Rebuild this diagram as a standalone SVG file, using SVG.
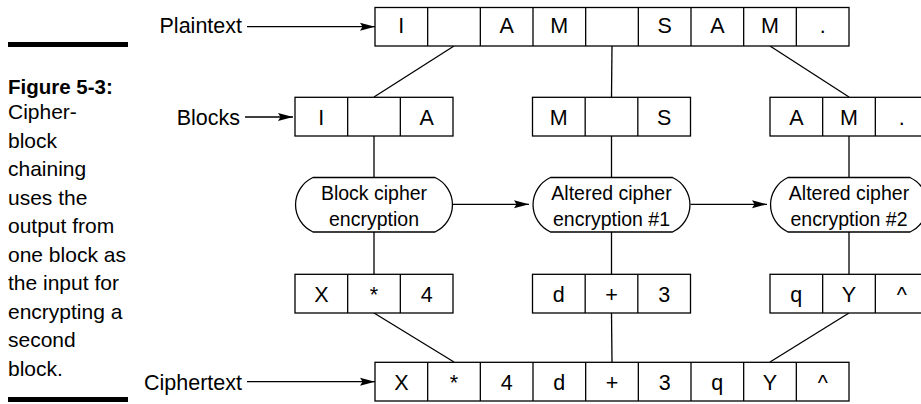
<svg xmlns="http://www.w3.org/2000/svg" width="921" height="404" viewBox="0 0 921 404">
<style>
.t{font-family:"Liberation Sans",Arial,sans-serif;font-size:21.5px;fill:#000}
.c{text-anchor:middle}
.e{font-family:"Liberation Sans",Arial,sans-serif;font-size:19.5px;fill:#000;text-anchor:middle}
.s{font-family:"Liberation Sans",Arial,sans-serif;font-size:21px;fill:#000}
.b{font-weight:bold;font-size:20.5px}
.box{fill:#fff;stroke:#000;stroke-width:1.3}
.ln{stroke:#000;stroke-width:1.3;fill:none}
</style>
<defs>
<marker id="ah" markerUnits="userSpaceOnUse" markerWidth="16" markerHeight="10" refX="15" refY="4.5" orient="auto">
<path d="M0,0.5 L15,4.5 L0,8.5 L2.5,4.5 z" fill="#000"/>
</marker>
<g id="cell3">
<rect class="box" x="0" y="0" width="158" height="38.7"/>
<line class="ln" x1="52.67" y1="0" x2="52.67" y2="38.7"/>
<line class="ln" x1="105.33" y1="0" x2="105.33" y2="38.7"/>
</g>
<path id="pill" class="box" d="M18,0 H140 A30,30 0 0 1 140,54.5 H18 A30,30 0 0 1 18,0 Z"/>
</defs>
<rect width="921" height="404" fill="#fff"/>

<g id="sidebar">
<rect x="8" y="42" width="120" height="5" fill="#000"/>
<rect x="8" y="397" width="120" height="5" fill="#000"/>
<text class="s b" x="8" y="94">Figure 5-3:</text>
<text class="s" x="8" y="119">Cipher-</text>
<text class="s" x="8" y="147.5">block</text>
<text class="s" x="8" y="176">chaining</text>
<text class="s" x="8" y="204.5">uses the</text>
<text class="s" x="8" y="233">output from</text>
<text class="s" x="8" y="261.5">one block as</text>
<text class="s" x="8" y="290">the input for</text>
<text class="s" x="8" y="318.5">encrypting a</text>
<text class="s" x="8" y="347">second</text>
<text class="s" x="8" y="375.5">block.</text>
</g>

<g id="connectors">
<line class="ln" x1="247" y1="26.7" x2="375" y2="26.7" marker-end="url(#ah)"/>
<line class="ln" x1="245" y1="117" x2="293" y2="117" marker-end="url(#ah)"/>
<line class="ln" x1="247" y1="381.7" x2="375" y2="381.7" marker-end="url(#ah)"/>
<line class="ln" x1="454" y1="46" x2="374" y2="97"/>
<line class="ln" x1="612" y1="46" x2="611.5" y2="97"/>
<line class="ln" x1="770" y1="46" x2="849" y2="97"/>
<line class="ln" x1="374" y1="136" x2="374" y2="177"/>
<line class="ln" x1="611.5" y1="136" x2="611.5" y2="177"/>
<line class="ln" x1="849" y1="136" x2="849" y2="177"/>
<line class="ln" x1="374" y1="232" x2="374" y2="274"/>
<line class="ln" x1="611.5" y1="232" x2="611.5" y2="274"/>
<line class="ln" x1="849" y1="232" x2="849" y2="274"/>
<line class="ln" x1="374" y1="313" x2="454" y2="362"/>
<line class="ln" x1="611.5" y1="313" x2="612" y2="362"/>
<line class="ln" x1="849" y1="313" x2="770" y2="362"/>
<line class="ln" x1="453" y1="204.3" x2="529" y2="204.3" marker-end="url(#ah)"/>
<line class="ln" x1="690.5" y1="204.3" x2="767" y2="204.3" marker-end="url(#ah)"/>
</g>

<g id="plaintext">
<text class="t" x="242" y="33" text-anchor="end">Plaintext</text>
<rect class="box" x="375" y="7.5" width="474" height="38.5"/>
<line class="ln" x1="427.67" y1="7.5" x2="427.67" y2="46"/>
<line class="ln" x1="480.33" y1="7.5" x2="480.33" y2="46"/>
<line class="ln" x1="533" y1="7.5" x2="533" y2="46"/>
<line class="ln" x1="585.67" y1="7.5" x2="585.67" y2="46"/>
<line class="ln" x1="638.33" y1="7.5" x2="638.33" y2="46"/>
<line class="ln" x1="691" y1="7.5" x2="691" y2="46"/>
<line class="ln" x1="743.67" y1="7.5" x2="743.67" y2="46"/>
<line class="ln" x1="796.33" y1="7.5" x2="796.33" y2="46"/>
<text class="t c" x="401.3" y="33">I</text>
<text class="t c" x="506.7" y="33">A</text>
<text class="t c" x="559.3" y="33">M</text>
<text class="t c" x="664.7" y="33">S</text>
<text class="t c" x="717.3" y="33">A</text>
<text class="t c" x="770" y="33">M</text>
<text class="t c" x="822.7" y="33">.</text>
</g>

<g id="blocks">
<text class="t" x="240" y="125" text-anchor="end">Blocks</text>
<use href="#cell3" x="295" y="97.3"/>
<use href="#cell3" x="532.5" y="97.3"/>
<use href="#cell3" x="770" y="97.3"/>
<text class="t c" x="321.3" y="124.5">I</text>
<text class="t c" x="426.7" y="124.5">A</text>
<text class="t c" x="558.8" y="124.5">M</text>
<text class="t c" x="664.2" y="124.5">S</text>
<text class="t c" x="796.3" y="124.5">A</text>
<text class="t c" x="849" y="124.5">M</text>
<text class="t c" x="901.7" y="124.5">.</text>
</g>

<g id="enc1">
<use href="#pill" x="295" y="177.5"/>
<text class="e" x="374" y="200">Block cipher</text>
<text class="e" x="374" y="225.5">encryption</text>
</g>
<g id="enc2">
<use href="#pill" x="532.5" y="177.5"/>
<text class="e" x="611.5" y="200">Altered cipher</text>
<text class="e" x="611.5" y="225.5">encryption #1</text>
</g>
<g id="enc3">
<use href="#pill" x="770" y="177.5"/>
<text class="e" x="849" y="200">Altered cipher</text>
<text class="e" x="849" y="225.5">encryption #2</text>
</g>

<g id="outblocks">
<use href="#cell3" x="295" y="274.3"/>
<use href="#cell3" x="532.5" y="274.3"/>
<use href="#cell3" x="770" y="274.3"/>
<text class="t c" x="321.3" y="302">X</text>
<text class="t c" x="374" y="302">*</text>
<text class="t c" x="426.7" y="302">4</text>
<text class="t c" x="558.8" y="302">d</text>
<text class="t c" x="611.5" y="302">+</text>
<text class="t c" x="664.2" y="302">3</text>
<text class="t c" x="796.3" y="302">q</text>
<text class="t c" x="849" y="302">Y</text>
<text class="t c" x="901.7" y="302">^</text>
</g>

<g id="ciphertext">
<text class="t" x="242" y="389.5" text-anchor="end">Ciphertext</text>
<rect class="box" x="375" y="362.3" width="474" height="38.7"/>
<line class="ln" x1="427.67" y1="362.3" x2="427.67" y2="401"/>
<line class="ln" x1="480.33" y1="362.3" x2="480.33" y2="401"/>
<line class="ln" x1="533" y1="362.3" x2="533" y2="401"/>
<line class="ln" x1="585.67" y1="362.3" x2="585.67" y2="401"/>
<line class="ln" x1="638.33" y1="362.3" x2="638.33" y2="401"/>
<line class="ln" x1="691" y1="362.3" x2="691" y2="401"/>
<line class="ln" x1="743.67" y1="362.3" x2="743.67" y2="401"/>
<line class="ln" x1="796.33" y1="362.3" x2="796.33" y2="401"/>
<text class="t c" x="401.3" y="389.5">X</text>
<text class="t c" x="454" y="389.5">*</text>
<text class="t c" x="506.7" y="389.5">4</text>
<text class="t c" x="559.3" y="389.5">d</text>
<text class="t c" x="612" y="389.5">+</text>
<text class="t c" x="664.7" y="389.5">3</text>
<text class="t c" x="717.3" y="389.5">q</text>
<text class="t c" x="770" y="389.5">Y</text>
<text class="t c" x="822.7" y="389.5">^</text>
</g>
</svg>
